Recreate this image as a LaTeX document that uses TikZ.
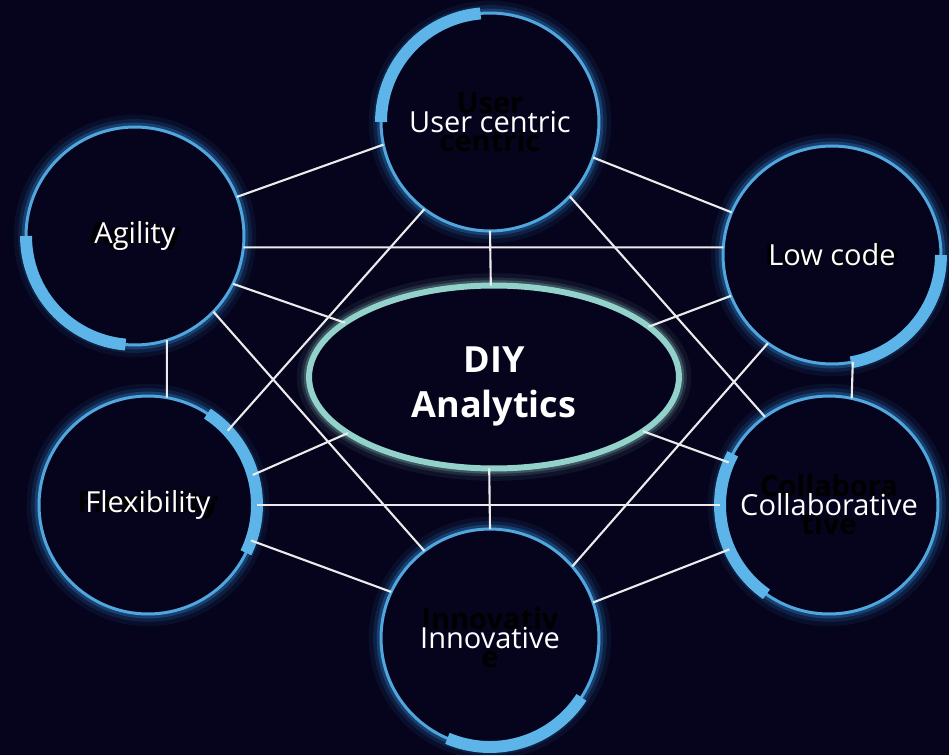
\documentclass[tikz,border=0pt]{standalone}
\usepackage{fontspec}
\setmainfont{Open Sans}
\usetikzlibrary{shapes.geometric}
\definecolor{night}{RGB}{6,4,28}
\definecolor{ring}{RGB}{82,166,222}
\definecolor{band}{RGB}{92,180,232}
\definecolor{halo}{RGB}{45,140,215}
\definecolor{mint}{RGB}{147,210,203}
\tikzset{%
  topic/.style = {circle,draw=ring,fill=night,line width=1.7pt,
        minimum size=4.36cm,inner sep=0pt,outer sep=0pt,
        text=black,align=center,
        font=\bfseries\fontsize{16.5}{21.5}\selectfont,
        preaction={draw=halo,line width=14pt,opacity=0.08},
        preaction={draw=halo,line width=9pt,opacity=0.15},
        preaction={draw=halo,line width=5pt,opacity=0.3}},
  caption/.style = {text=white,font=\fontsize{16.5}{20}\selectfont},
  hub/.style = {ellipse,draw=mint,fill=night,line width=3.4pt,
        minimum width=7.4cm,minimum height=3.66cm,outer sep=0pt,
        preaction={draw=mint,line width=14pt,opacity=0.07},
        preaction={draw=mint,line width=9pt,opacity=0.14},
        preaction={draw=mint,line width=6pt,opacity=0.25}},
  hubtext/.style = {text=white,align=center,yshift=-5.5pt,
        font=\bfseries\fontsize{20.5}{25.5}\selectfont},
  link/.style = {draw=white!92!night,line width=1.2pt},
  arcband/.style = {draw=band,line width=6.8pt}
}
\begin{document}
\begin{tikzpicture}[x=0.02cm,y=0.02cm]
   \useasboundingbox (0,0) rectangle (949,755);
   \fill[night] (0,0) rectangle (949,755);

   \node[topic] (ag) at (135,519) [label={[caption]center:Agility}] {Agility};
   \node[topic] (uc) at (490,633) [label={[caption]center:User centric}] {User\\centric};
   \node[topic] (lc) at (832,500) [label={[caption]center:Low code}] {Low code};
   \node[topic] (fx) at (148,250) [label={[caption]center:Flexibility}] {Flexibility};
   \node[topic] (co) at (829,250) [label={[caption]center:Collaborative}] {Collabora\\tive};
   \node[topic] (in) at (490,117) [label={[caption]center:Innovative}] {Innovativ\\e};
   \node[hub] (diy) at (494,378) [label={[hubtext]center:DIY\\Analytics}] {};

   \draw[arcband] (uc.180) arc[start angle=180,end angle=95,radius=2.18cm];
   \draw[arcband] (ag.180) arc[start angle=180,end angle=265,radius=2.18cm];
   \draw[arcband] (lc.0) arc[start angle=0,end angle=-80,radius=2.18cm];
   \draw[arcband] (fx.57) arc[start angle=57,end angle=-26,radius=2.18cm];
   \draw[arcband] (co.152) arc[start angle=152,end angle=235,radius=2.18cm];
   \draw[arcband] (in.247) arc[start angle=247,end angle=327,radius=2.18cm];

   \draw[link] (uc.192) -- (ag.21);
   \draw[link] (uc.-19) -- (lc.157);
   \draw[link] (uc.-90) -- (diy.92.5);
   \draw[link] (uc.233) -- (fx.43);
   \draw[link] (uc.-43.5) -- (co.126);
   \draw[link] (ag.-6.3) -- (lc.176.3);
   \draw[link] (ag.-26) -- (diy.160.8);
   \draw[link] (ag.-73.7) -- (fx.80.5);
   \draw[link] (ag.-44.6) -- (in.127.3);
   \draw[link] (lc.202) -- (diy.18.3);
   \draw[link] (lc.-79.5) -- (co.78);
   \draw[link] (lc.234.6) -- (in.41.7);
   \draw[link] (fx.east) -- (co.west);
   \draw[link] (fx.16.8) -- (diy.201.9);
   \draw[link] (fx.-19.2) -- (in.155.7);
   \draw[link] (co.157.5) -- (diy.-20.9);
   \draw[link] (co.204.8) -- (in.19.4);
   \draw[link] (in.90) -- (diy.267.5);
\end{tikzpicture}
\end{document}
